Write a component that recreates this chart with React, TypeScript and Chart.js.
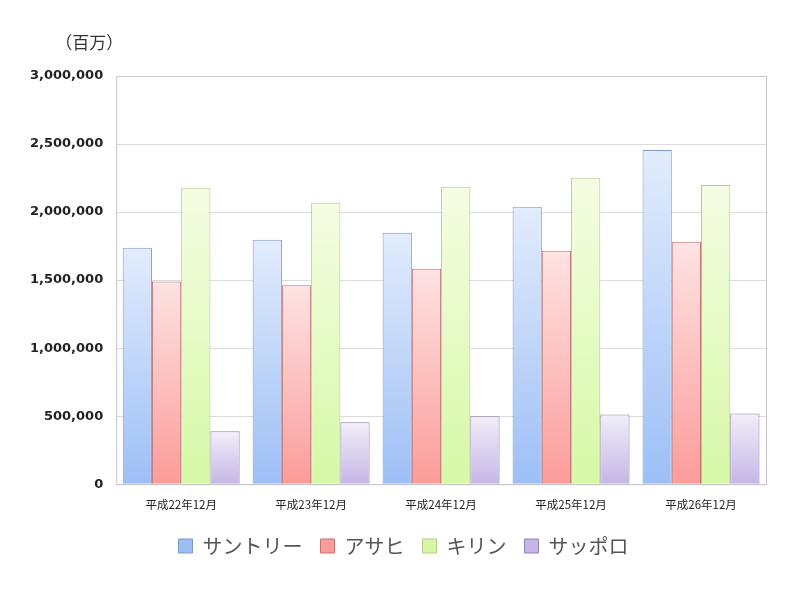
import { useEffect, useRef } from 'react'
import Chart from 'chart.js/auto'

const years = ['平成22年12月', '平成23年12月', '平成24年12月', '平成25年12月', '平成26年12月']
const suntory = [1738000, 1797000, 1848000, 2039000, 2457000]
const asahi = [1489000, 1462000, 1584000, 1716000, 1782000]
const kirin = [2178000, 2068000, 2186000, 2252000, 2199000]
const sapporo = [389000, 455000, 499000, 513000, 520000]
const yTicks = [0, 500000, 1000000, 1500000, 2000000, 2500000, 3000000]

const jp = '"Noto Sans CJK JP", "Noto Sans", sans-serif'

// per-bar vertical gradient: light at the top, stronger at the base
const barFill = (top: string, bottom: string, mid: string) => (c: any) => {
  const chart = c.chart
  const area = chart.chartArea
  if (!area || c.type !== 'data' || !chart.scales.y) return mid
  const y0 = chart.scales.y.getPixelForValue(c.raw)
  const g = chart.ctx.createLinearGradient(0, y0, 0, area.bottom)
  g.addColorStop(0, top)
  g.addColorStop(1, bottom)
  return g
}

const frame = {
  id: 'frame',
  afterLayout(chart: any) {
    // legend sits a little right of the canvas centre
    if (chart.legend) {
      chart.legend.left += 12
      chart.legend.right += 12
    }
  },
  afterDraw(chart: any) {
    const { ctx, chartArea } = chart
    ctx.save()
    ctx.strokeStyle = '#c8c8c8'
    ctx.lineWidth = 1
    ctx.strokeRect(chartArea.left + 0.5, chartArea.top + 0.5, chartArea.right - chartArea.left, chartArea.bottom - chartArea.top)
    ctx.fillStyle = '#333'
    ctx.font = '17px ' + jp
    ctx.textAlign = 'center'
    ctx.textBaseline = 'middle'
    ctx.fillText('（百万）', chartArea.left - 27, 43)
    ctx.restore()
  },
}

export default function App() {
  const chartRef = useRef<HTMLCanvasElement>(null)
  const chartInstance = useRef<Chart | null>(null)

  useEffect(() => {
    document.body.style.margin = '0'
    if (!chartRef.current) return
    const ctx = chartRef.current.getContext('2d')
    if (!ctx) return
    if (chartInstance.current) chartInstance.current.destroy()

    chartInstance.current = new Chart(ctx, {
      type: 'bar',
      data: {
        labels: years,
        datasets: [
          {
            label: 'サントリー',
            data: suntory,
            backgroundColor: barFill('#e2ecfd', '#9dbff6', '#bcd3fa'),
            borderColor: '#7e98c4',
            borderWidth: 1,
          },
          {
            label: 'アサヒ',
            data: asahi,
            backgroundColor: barFill('#fee3e3', '#fb9c9a', '#fbbfbe'),
            borderColor: '#c07270',
            borderWidth: 1,
          },
          {
            label: 'キリン',
            data: kirin,
            backgroundColor: barFill('#f5fde3', '#d6f8a6', '#e6fbc4'),
            borderColor: '#b4cc86',
            borderWidth: 1,
          },
          {
            label: 'サッポロ',
            data: sapporo,
            backgroundColor: barFill('#f2eef9', '#c5b6e6', '#dbd2f0'),
            borderColor: '#8f82ad',
            borderWidth: 1,
          },
        ],
      },
      options: {
        responsive: false,
        animation: false,
        layout: { padding: { left: 17, right: 34, top: 76, bottom: 34 } },
        datasets: { bar: { categoryPercentage: 0.9, barPercentage: 1.0 } },
        plugins: {
          tooltip: { enabled: false },
          legend: {
            position: 'bottom',
            labels: {
              boxWidth: 14,
              boxHeight: 14,
              padding: 18,
              color: '#555',
              font: { family: jp, size: 20 },
            },
          },
        },
        scales: {
          x: {
            grid: { display: false },
            border: { color: '#c8c8c8' },
            ticks: { color: '#222', font: { family: jp, size: 11.5 }, padding: 6 },
          },
          y: {
            min: 0,
            max: 3000000,
            afterBuildTicks: (axis: any) => {
              axis.ticks = yTicks.map((v) => ({ value: v }))
            },
            grid: { color: '#dcdcdc', drawTicks: false },
            border: { display: false },
            ticks: {
              color: '#222',
              padding: 13,
              font: { family: '"DejaVu Sans", sans-serif', size: 13, weight: 'bold' },
              callback: (v: any) => Number(v).toLocaleString('en-US'),
            },
          },
        },
      },
      plugins: [frame],
    })

    return () => {
      if (chartInstance.current) {
        chartInstance.current.destroy()
        chartInstance.current = null
      }
    }
  }, [])

  return (
    <div style={{ width: 800, height: 600, background: '#fff' }}>
      <canvas ref={chartRef} width={800} height={600}></canvas>
    </div>
  )
}
